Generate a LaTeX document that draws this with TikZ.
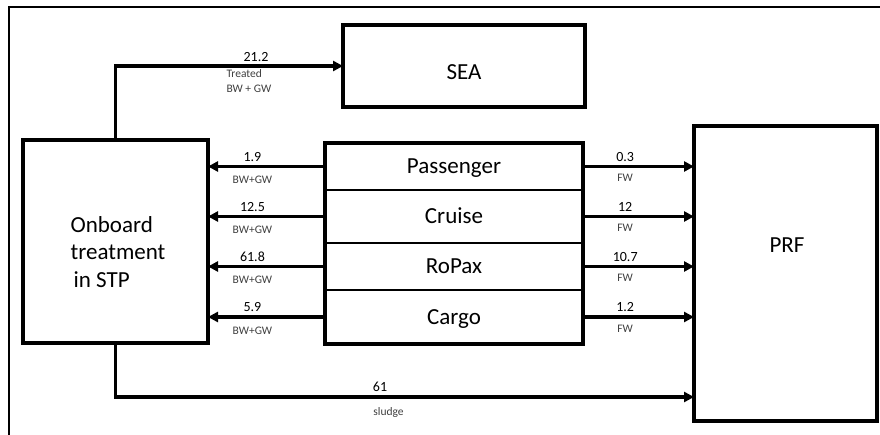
\documentclass[tikz,border=0pt]{standalone}
\usepackage{fontspec}
\setmainfont{Carlito}
\usetikzlibrary{arrows.meta,fit,calc}
\begin{document}
\begin{tikzpicture}[x=1pt,y=-1pt,
  box/.style={draw, line width=3.1pt, inner sep=0pt, outer sep=0pt},
  big/.style={font=\fontsize{23}{27.5}\selectfont},
  row/.style={big, minimum width=258pt, inner sep=0pt, outer sep=0pt, text height=20pt, text depth=5pt},
  div/.style={line width=2pt},
  flow/.style={line width=3.5pt, -{Triangle[length=10pt,width=10pt]}},
  num/.style={font=\fontsize{14}{16}\selectfont, anchor=base, yshift=5pt},
  lab/.style={font=\fontsize{11.5}{15}\selectfont, text=black!75},
  labl/.style={lab, anchor=base, yshift=-17.5pt},
  labr/.style={lab, anchor=base, yshift=-15pt}]
\fill[white] (0,0) rectangle (880,435);
\useasboundingbox (0,0) rectangle (880,435);
\draw[line width=2.4pt] (9,435) -- (9,7) -- (880,7);

\node[box, minimum width=242pt, minimum height=82pt] (sea) at (464,66) {};
\node[big] (seatxt) at ($(sea.center)+(0,6)$) {SEA};

\node[box, minimum width=185pt, minimum height=203pt] (onb) at (115.5,241.5) {};
\node[big, align=left] (onbtxt) at (118,252) {Onboard\\treatment\\\hspace{3pt}in STP};

\node[box, minimum width=183pt, minimum height=295pt] (prf) at (785.5,273.5) {};
\node[big] (prftxt) at (787,245) {PRF};

\node[row, minimum height=47pt] (pass) at (454,166.5) {Passenger};
\node[row, minimum height=53pt] (cruise) at (454,216.5) {Cruise};
\node[row, minimum height=47pt] (ropax) at (454,266.5) {RoPax};
\node[row, minimum height=54pt] (cargo) at (454,317) {Cargo};
\node[box, fit=(pass)(cargo)] (mid) {};
\draw[div] (pass.south west) -- (pass.south east);
\draw[div] (cruise.south west) -- (cruise.south east);
\draw[div] (ropax.south west) -- (ropax.south east);

\draw[flow] (pass.west) -- (pass.west -| onb.east)
  node[num, pos=0.62] {1.9} node[labl, pos=0.62] {BW+GW};
\draw[flow] (cruise.west) -- (cruise.west -| onb.east)
  node[num, pos=0.62] {12.5} node[labl, pos=0.62] {BW+GW};
\draw[flow] (ropax.west) -- (ropax.west -| onb.east)
  node[num, pos=0.62] {61.8} node[labl, pos=0.62] {BW+GW};
\draw[flow] (cargo.west) -- (cargo.west -| onb.east)
  node[num, pos=0.62] {5.9} node[labl, pos=0.62] {BW+GW};

\draw[flow] (pass.east) -- (pass.east -| prf.west)
  node[num, pos=0.38] {0.3} node[labr, pos=0.38] {FW};
\draw[flow] (cruise.east) -- (cruise.east -| prf.west)
  node[num, pos=0.38] {12} node[labr, pos=0.38] {FW};
\draw[flow] (ropax.east) -- (ropax.east -| prf.west)
  node[num, pos=0.38] {10.7} node[labr, pos=0.38] {FW};
\draw[flow] (cargo.east) -- (cargo.east -| prf.west)
  node[num, pos=0.38] {1.2} node[labr, pos=0.38] {FW};

\draw[flow] (onb.north) |- (sea.west);
\node[font=\fontsize{14}{16}\selectfont] (n212) at (256,57) {21.2};
\node[lab, align=left, anchor=west] (treat) at (223,81) {Treated\\BW + GW};

\coordinate (sl) at ($(prf.south west)+(0,-24)$);
\draw[flow] (onb.south) |- (sl);
\node[font=\fontsize{14}{16}\selectfont] (n61) at (380,387) {61};
\node[lab] (sludge) at (388.5,412) {sludge};
\end{tikzpicture}
\end{document}
